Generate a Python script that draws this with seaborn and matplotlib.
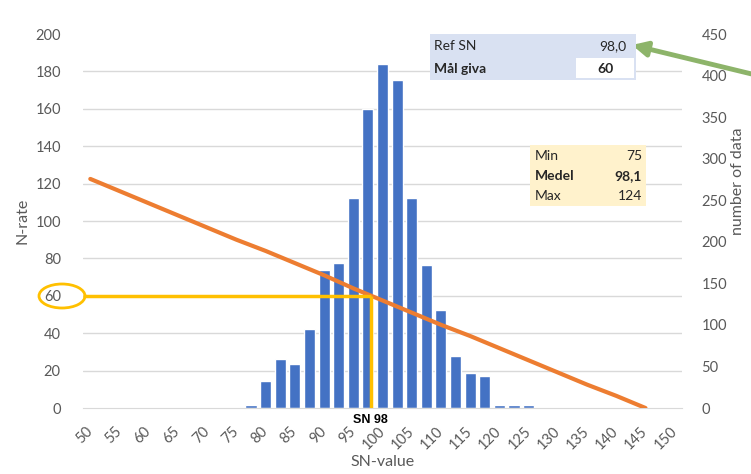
import matplotlib
matplotlib.use("Agg")
import matplotlib.pyplot as plt
from matplotlib.ticker import MultipleLocator
from matplotlib.patches import Rectangle, Ellipse
import seaborn as sns
import pandas as pd

# ---- data ----
bin_centers = [77.5, 80, 82.5, 85, 87.5, 90, 92.5, 95, 97.5, 100,
               102.5, 105, 107.5, 110, 112.5, 115, 117.5, 120, 122.5, 125]
counts = [4, 33, 59, 53, 95, 166, 175, 253, 360, 414,
          395, 253, 172, 118, 63, 42, 38, 4, 4, 4]

sn_values = [50, 55, 60, 65, 70, 75, 80, 85, 90, 95,
             100, 105, 110, 115, 120, 125, 130, 135, 140, 145]
n_rate = [122.5, 116, 109.5, 103, 96.5, 90, 84, 77.5, 71, 64,
          57.5, 51, 44.5, 38.5, 32, 25.5, 19, 12.5, 6.5, 0]

x_ticks = list(range(50, 151, 5))
ref_sn = 98
target_rate = 60
stats_labels = ["Min", "Medel", "Max"]
stats_values = ["75", "98,1", "124"]

BLUE = "#4472C4"
ORANGE = "#ED7D31"
YELLOW = "#FFC000"
GRAY = "#595959"
GRID = "#D9D9D9"

sns.set_style("white")
plt.rcParams["font.family"] = ["Lato", "DejaVu Sans"]

W, H = 751, 474
fig = plt.figure(figsize=(W / 100, H / 100), dpi=100)
L, R, B, T = 83 / W, 682 / W, 1 - 408 / H, 1 - 34 / H
ax1 = fig.add_axes([L, B, R - L, T - B])   # bars (right scale)
ax2 = ax1.twinx()                          # line (left scale)

bars_df = pd.DataFrame({"sn": bin_centers, "count": counts})
sns.barplot(data=bars_df, x="sn", y="count", native_scale=True, color=BLUE,
            saturation=1, width=0.76, ax=ax1, zorder=2)

line_df = pd.DataFrame({"sn": sn_values, "rate": n_rate})
sns.lineplot(data=line_df, x="sn", y="rate", color=ORANGE, lw=3, ax=ax2,
             zorder=3)

xmin, xmax = 48.75, 151.25
ax1.set_xlim(xmin, xmax)
ax1.set_ylim(0, 450)
ax2.set_ylim(0, 200)

# right axis (counts)
ax1.yaxis.tick_right()
ax1.yaxis.set_label_position("right")
ax1.yaxis.set_major_locator(MultipleLocator(50))
ax1.yaxis.set_minor_locator(MultipleLocator(45))
ax1.grid(False)
ax1.grid(which="minor", axis="y", color=GRID, lw=1, zorder=0)
ax1.set_axisbelow(True)
ax1.tick_params(axis="y", which="both", length=0, labelsize=10.5,
                labelcolor=GRAY, pad=14)
ax1.set_ylabel("")
fig.text(738 / W, 1 - 181 / H, "number of data", rotation=90, ha="center",
         va="center", fontsize=11.5, color=GRAY)

# left axis (N-rate)
ax2.yaxis.tick_left()
ax2.yaxis.set_label_position("left")
ax2.yaxis.set_major_locator(MultipleLocator(20))
ax2.tick_params(axis="y", length=0, labelsize=10.5, labelcolor=GRAY, pad=16)
ax2.set_ylabel("N-rate", fontsize=11.5, color=GRAY, labelpad=4)
ax2.grid(False)

ax1.set_xticks(x_ticks)
ax1.set_xticklabels([str(v) for v in x_ticks], rotation=45, ha="right",
                    va="center", rotation_mode="anchor", fontsize=10.5,
                    color=GRAY)
ax1.tick_params(axis="x", length=0, pad=15)
ax1.set_xlabel("SN-value", fontsize=11.5, color=GRAY, labelpad=2)
ax2.set_xlabel("")

for a in (ax1, ax2):
    for s in a.spines.values():
        s.set_visible(False)
ax1.spines["bottom"].set_visible(True)
ax1.spines["bottom"].set_color(GRID)

# yellow target lines
ax2.hlines(target_rate, xmin, ref_sn, color=YELLOW, lw=2.5, zorder=4,
           clip_on=False)
ax2.vlines(ref_sn, 0, target_rate, color=YELLOW, lw=2.5, zorder=4)
ax2.text(ref_sn, -3.0, f"SN {ref_sn}", ha="center", va="top", fontsize=9,
         fontweight="bold", family="Liberation Sans", color="black")
fig.add_artist(Ellipse((62 / W, 1 - 296 / H), 46 / W, 24 / H,
                       transform=fig.transFigure, fill=False,
                       edgecolor=YELLOW, lw=2))

# Ref SN table
fig.add_artist(Rectangle((430 / W, 1 - 80 / H), 206 / W, 46 / H,
                         transform=fig.transFigure, facecolor="#D9E1F2",
                         edgecolor="none", zorder=5))
fig.add_artist(Rectangle((576 / W, 1 - 78 / H), 58 / W, 20 / H,
                         transform=fig.transFigure, facecolor="white",
                         edgecolor="none", zorder=6))
fig.text(434 / W, 1 - 46 / H, "Ref SN", fontsize=10, va="center", zorder=7)
fig.text(626 / W, 1 - 46 / H, "98,0", fontsize=10, va="center", ha="right",
         zorder=7)
fig.text(434 / W, 1 - 69 / H, "Mål giva", fontsize=10, va="center",
         fontweight="bold", zorder=7)
fig.text(606 / W, 1 - 69 / H, str(target_rate), fontsize=10, va="center",
         ha="center", fontweight="bold", zorder=7)

# stats table
fig.add_artist(Rectangle((530 / W, 1 - 206 / H), 116 / W, 61 / H,
                         transform=fig.transFigure, facecolor="#FFF2CC",
                         edgecolor="none", zorder=5))
for i, (lab, val) in enumerate(zip(stats_labels, stats_values)):
    y = 1 - (156 + 20 * i) / H
    fw = "bold" if lab == "Medel" else "normal"
    fig.text(535 / W, y, lab, fontsize=10, va="center", fontweight=fw,
             zorder=7)
    fig.text(642 / W, y, val, fontsize=10, va="center", ha="right",
             fontweight=fw, zorder=7)

# green arrow
ax1.annotate("", xy=(632 / W, 1 - 45 / H), xytext=(760 / W, 1 - 76 / H),
             xycoords="figure fraction", textcoords="figure fraction",
             arrowprops=dict(arrowstyle="-|>", color="#8DB46A", lw=3.5,
                             mutation_scale=22, shrinkA=0, shrinkB=0),
             annotation_clip=False, zorder=8)

fig.savefig("out.png", dpi=100)
